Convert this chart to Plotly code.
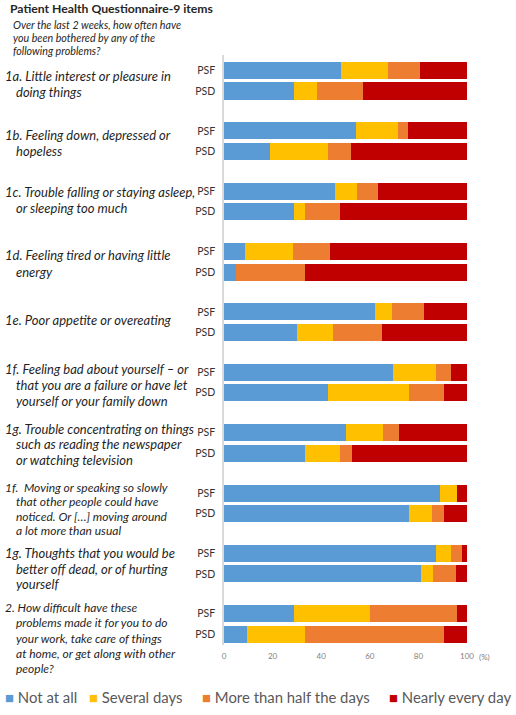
import plotly.graph_objects as go

# ---------------- data ----------------
items = [
    ["1a. Little interest or pleasure in", "doing things"],
    ["1b. Feeling down, depressed or", "hopeless"],
    ["1c. Trouble falling or staying asleep,", "or sleeping too much"],
    ["1d. Feeling tired or having little", "energy"],
    ["1e. Poor appetite or overeating"],
    ["1f. Feeling bad about yourself – or", "that you are a failure or have let", "yourself or your family down"],
    ["1g. Trouble concentrating on things", "such as reading the newspaper", "or watching television"],
    ["1f.  Moving or speaking so slowly", "that other people could have", "noticed. Or […] moving around", "a lot more than usual"],
    ["1g. Thoughts that you would be", "better off dead, or of hurting", "yourself"],
    ["2. How difficult have these", "problems made it for you to do", "your work, take care of things", "at home, or get along with other", "people?"],
]
groups = ["PSF", "PSD"]
categories = ["Not at all", "Several days", "More than half the days", "Nearly every day"]

not_at_all_psf = [48, 54.3, 45.7, 8.6, 62.3, 69.7, 50.1, 89, 87.2, 28.8]
several_psf = [19.5, 17.5, 9, 19.8, 6.7, 17.5, 15.3, 6.8, 6.3, 31.4]
more_half_psf = [13, 4, 8.7, 15.1, 13.3, 6.3, 6.5, 0, 4.4, 35.6]
nearly_psf = [19.5, 24.2, 36.6, 56.5, 17.7, 6.5, 28.1, 4.2, 2.1, 4.2]

not_at_all_psd = [28.7, 19.1, 28.7, 4.8, 30, 42.9, 33.3, 76.1, 81.1, 9.5]
several_psd = [9.6, 23.7, 4.8, 0, 15, 33.2, 14.4, 9.6, 4.8, 23.8]
more_half_psd = [18.9, 9.5, 14.2, 28.7, 20.1, 14.6, 4.8, 5, 9.4, 57.1]
nearly_psd = [42.8, 47.7, 52.3, 66.5, 34.9, 9.3, 47.5, 9.3, 4.7, 9.6]

x_ticks = [0, 20, 40, 60, 80, 100]

title_text = "Patient Health Questionnaire-9 items"
subtitle = ["Over the last 2 weeks, how often have", "you been bothered by any of the", "following problems?"]

# ---------------- layout constants ----------------
colors = ["#5b9bd5", "#ffc000", "#ed7d31", "#c00000"]
FONT = "Lato"
W, H = 516, 715
ML, MR, MT, MB = 224, 49, 55, 70
PW, PH = W - ML - MR, H - MT - MB
GROUP_STEP = 2.944
label_first_offset = [5, 4, 1, 3, 8.5, -3, -4, -6, 0, -6]
label_spacing = [16, 16.5, 16, 17, 16, 15.8, 15.8, 14.5, 15.3, 15.2]
label_size = [13, 13, 13, 13, 13, 13, 13, 12, 13, 12]


def px_x(p):
    return (p - ML) / PW


def px_y(p):
    return (H - MB - p) / PH


series_psf = [not_at_all_psf, several_psf, more_half_psf, nearly_psf]
series_psd = [not_at_all_psd, several_psd, more_half_psd, nearly_psd]

positions, ticktext = [], []
for i in range(len(items)):
    for j, g in enumerate(groups):
        positions.append(i * GROUP_STEP + j)
        ticktext.append(g)

fig = go.Figure()
for k, name in enumerate(categories):
    xs = []
    for i in range(len(items)):
        xs.append(series_psf[k][i])
        xs.append(series_psd[k][i])
    fig.add_trace(go.Bar(
        x=xs, y=positions, orientation="h", name=name,
        marker=dict(color=colors[k], line=dict(width=0)),
        width=0.83, showlegend=False,
        hovertemplate=name + ": %{x}%<extra></extra>",
    ))

annotations = []
# title and subtitle
annotations.append(dict(text="<b>" + title_text + "</b>", x=px_x(8), y=px_y(9),
                        xref="paper", yref="paper", xanchor="left", yanchor="middle", showarrow=False,
                        font=dict(family=FONT, size=12.2, color="#262626")))
for n, line in enumerate(subtitle):
    annotations.append(dict(text="<i>" + line + "</i>", x=px_x(11), y=px_y(24 + n * 13.3),
                            xref="paper", yref="paper", xanchor="left", yanchor="middle", showarrow=False,
                            font=dict(family=FONT, size=10.7, color="#262626")))

# item labels
for i, lines in enumerate(items):
    for n, line in enumerate(lines):
        indent = 3 if n == 0 else 14
        annotations.append(dict(
            text="<i>" + line + "</i>", x=px_x(indent), y=i * GROUP_STEP,
            xref="paper", yref="y", xanchor="left", yanchor="middle", showarrow=False,
            yshift=-(label_first_offset[i] + n * label_spacing[i]),
            font=dict(family=FONT, size=label_size[i], color="#1f1f1f")))

# (%) unit
annotations.append(dict(text="(%)", x=px_x(484), y=px_y(657), xref="paper", yref="paper",
                        xanchor="center", yanchor="middle", showarrow=False,
                        font=dict(family=FONT, size=8, color="#7f7f7f")))

# legend
legend_x = [3, 87, 200, 387]
for k, name in enumerate(categories):
    annotations.append(dict(
        text='<span style="color:%s">■</span> %s' % (colors[k], name),
        x=px_x(legend_x[k]), y=px_y(697), xref="paper", yref="paper",
        xanchor="left", yanchor="middle", showarrow=False,
        font=dict(family=FONT, size=14.9, color="#595959")))

fig.update_layout(
    width=W, height=H,
    margin=dict(l=ML, r=MR, t=MT, b=MB),
    barmode="stack",
    plot_bgcolor="white", paper_bgcolor="white",
    font=dict(family=FONT),
    annotations=annotations,
    xaxis=dict(range=[0, 100], tickvals=x_ticks, showgrid=False, zeroline=False, showline=False,
               tickfont=dict(family=FONT, size=8, color="#7f7f7f"), ticks="",
               ticklabelstandoff=5, fixedrange=True),
    yaxis=dict(range=[28.02, -0.756],
               tickvals=positions, ticktext=ticktext, showgrid=False, zeroline=False,
               showline=True, linecolor="#d9d9d9", linewidth=1.5, ticks="",
               ticklabelstandoff=5,
               tickfont=dict(family=FONT, size=10.5, color="#333333"), fixedrange=True),
)

fig.write_html("out.html")
